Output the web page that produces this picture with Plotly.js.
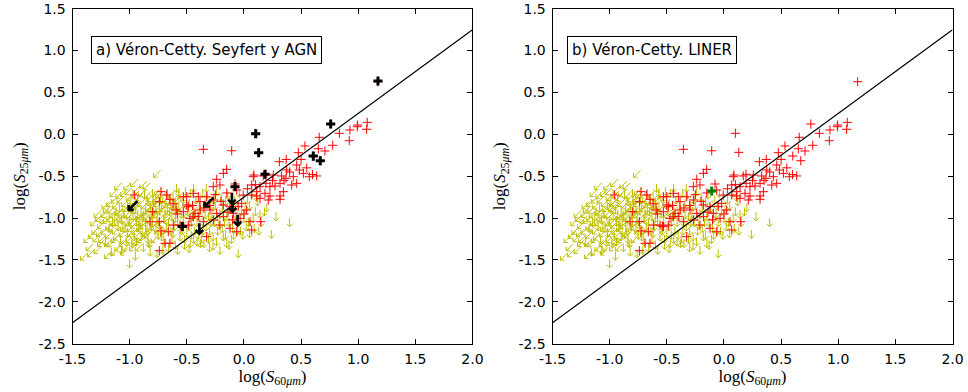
<!DOCTYPE html>
<html><head><meta charset="utf-8">
<script src="https://cdn.plot.ly/plotly-3.0.1.min.js"></script>
<style>html,body{margin:0;padding:0;background:#fff}</style>
</head><body><div id="chart" style="width:968px;height:392px"></div>
<script>
// ---- tick labels ----
const xTickVals = [-1.5,-1.0,-0.5,0.0,0.5,1.0,1.5,2.0];
const xTickText = ["-1.5","-1.0","-0.5","0.0","0.5","1.0","1.5","2.0"];
const yTickVals = [-2.5,-2.0,-1.5,-1.0,-0.5,0.0,0.5,1.0,1.5];
const yTickText = ["-2.5","-2.0","-1.5","-1.0","-0.5","0.0","0.5","1.0","1.5"];

// ---- detections (red +) ----
const redX = [1.17,0.10,0.13,0.76,0.835,0.928,0.992,1.079,1.074,0.922,0.659,0.534,0.777,0.709,0.651,0.602,0.672,0.476,0.31,0.462,0.485,0.52,0.572,0.637,0.432,0.374,0.462,0.418,0.316,0.33,0.257,0.169,0.082,0.193,0.272,0.345,0.141,0.228,0.316,0.112,
-0.355,-0.107,-0.151,-0.18,-0.238,-0.21,-0.268,-0.078,-0.063,0.088,0.193,0.068,0.228,0.368,0.068,0.141,0.213,0.316,0.112,0.184,-0.006,-0.02,0.024,0.053,0.147,0.068,-0.034,-0.093,-0.122,-0.18,-0.268,-0.326,-0.384,-0.443,-0.53,-0.384,-0.297,-0.238,-0.18,-0.268,-0.21,-0.122,-0.355,-0.443,-0.53,-0.326,-0.063,-0.487,-0.53,
-0.959,-0.726,-0.676,-0.647,-0.74,-0.798,-0.822,-0.74,-0.726,-0.662,-0.69,-0.647,-0.74,-0.594,-0.583,-0.559,-0.618,-0.536,-0.501,-0.472,-0.428,-0.399,-0.487,-0.501,
-0.30,-0.25,-0.15,-0.05,0.00,-0.10,-0.14,-0.40,-0.35,-0.20,0.10,0.03,0.25,0.40,0.55,0.60,0.50,0.35,-0.45,-0.62,0.37,0.995];
const redY = [0.628,0.012,-0.215,0.123,0.012,0.052,0.091,0.143,0.060,-0.076,-0.036,-0.139,-0.131,-0.199,-0.172,-0.259,-0.315,-0.219,-0.327,-0.366,-0.426,-0.466,-0.506,-0.497,-0.506,-0.426,-0.585,-0.605,-0.585,-0.497,-0.486,-0.497,-0.506,-0.585,-0.617,-0.685,-0.625,-0.736,-0.736,-0.736,
-0.179,-0.196,-0.418,-0.466,-0.537,-0.605,-0.625,-0.593,-0.665,-0.486,-0.477,-0.605,-0.625,-0.525,-0.725,-0.764,-0.784,-0.776,-0.685,-0.705,-0.725,-0.824,-0.904,-1.043,-1.043,-1.142,-1.003,-0.943,-0.864,-0.844,-0.784,-0.745,-0.804,-0.705,-0.745,-0.904,-0.904,-0.943,-0.984,-1.023,-1.083,-1.122,-1.043,-0.984,-0.924,-1.222,-1.163,-1.083,-1.103,
-0.724,-0.685,-0.724,-0.776,-0.804,-0.924,-1.043,-1.043,-1.154,-1.163,-1.301,-1.301,-1.39,-0.904,-0.951,-1.083,-1.083,-1.095,-0.844,-1.003,-0.943,-0.745,-0.864,-0.745,
-0.85,-0.72,-0.70,-0.86,-0.95,-1.02,-0.93,-0.98,-0.88,-0.80,-0.60,-0.65,-0.55,-0.45,-0.40,-0.48,-0.30,-0.55,-0.85,-0.83,-0.30,0.111];

// ---- upper limits in S25 (yellow down arrows) ----
const ulDownX = [-1.05,-1.00,-0.95,-0.92,-0.88,-0.85,-0.82,-0.80,-0.78,-0.75,
-0.72,-0.70,-0.68,-0.65,-0.62,-0.60,-0.58,-0.55,-0.52,-0.50,
-0.48,-0.45,-0.42,-0.40,-0.38,-0.35,-0.32,-0.30,-0.28,-0.25,
-0.22,-0.20,-0.18,-0.15,-0.12,-0.10,-0.08,-0.05,-0.02,0.02,
0.05,0.08,0.12,-1.10,-1.12,-1.08,-1.15,-1.02,-0.98,-0.93,
-0.90,-0.87,-0.83,-0.80,-0.77,-0.73,-0.70,-0.67,-0.63,-0.60,
-0.57,-0.54,-0.51,-0.47,-0.44,-0.41,-0.37,-0.34,-0.31,-0.27,
-0.24,-0.21,-0.17,-0.14,-0.11,-0.07,-0.04,0.00,0.03,0.10,
0.40,0.24,0.20,0.18,-0.05,-0.21,-0.27,-0.48,-0.76,-1.00,
-0.01,0.07,-0.59,-0.44,-0.33,-0.57,-0.47,0.15,0.28,0.13,
-0.38,-0.13,-0.58,-0.88,-0.95,-0.66,-0.30,0.05,-1.02,-0.97,
-0.94,-0.90,-0.86,-0.84,-0.81,-0.76,-0.74,-0.71,-0.69,-0.66,
-0.64,-0.61,-0.59,-0.56,-0.53,-0.49,-0.46,-0.43,-0.39,-0.36,
-0.33,-0.29,-0.26,-0.23,-0.19,-0.16,-0.09,-0.06,-1.07,-1.04,
-1.18,-1.13,-1.09,-1.06,-1.03,-0.99,-0.96,-0.93,-0.91,-0.89,
-0.86,-0.84,-0.81,-0.79,-0.77,-0.74,-0.72,-0.69,-0.67,-0.64,
-0.62,-0.60,-0.57,-0.55,-0.53,-0.50,-0.48,-0.46,-0.43,-0.41,
-0.39,-0.36,-0.34,-0.31,-0.29,-0.26,-0.23,-0.19,-0.16,-0.13,
-0.09,-0.06,-0.03,0.01,0.04,0.09,0.11,0.14,-1.21,-1.16,
-1.07,-0.94,-0.82,-0.71,-0.63,-0.52,-0.44,-0.35,-0.24,-0.15];
const ulDownY = [-0.95,-1.02,-0.90,-1.10,-0.98,-1.15,-0.88,-1.05,-0.95,-1.20,
-0.85,-1.00,-1.10,-0.92,-1.18,-0.80,-1.05,-0.95,-1.25,-0.85,
-1.10,-0.98,-0.78,-1.20,-0.90,-1.05,-0.72,-1.15,-0.95,-0.85,
-1.08,-0.75,-1.22,-0.98,-0.88,-1.12,-0.78,-1.05,-0.92,-1.10,
-0.85,-1.00,-0.80,-1.10,-0.92,-1.25,-1.05,-1.18,-1.30,-0.78,
-1.22,-0.72,-1.30,-0.70,-1.12,-0.78,-1.28,-0.70,-0.98,-1.32,
-0.72,-1.15,-0.68,-1.30,-0.88,-1.05,-1.25,-0.82,-0.98,-1.22,
-0.68,-0.95,-1.05,-0.72,-1.25,-0.95,-0.70,-1.00,-0.78,-0.92,
-1.05,-1.19,-0.87,-0.92,-1.42,-1.38,-1.33,-1.36,-1.42,-1.54,
-1.20,-0.70,-0.64,-0.64,-0.64,-0.69,-0.70,-1.05,-0.98,-1.15,
-1.30,-1.32,-1.38,-1.35,-1.45,-1.35,-1.35,-1.18,-0.85,-0.97,
-1.05,-0.93,-1.05,-0.80,-0.97,-1.02,-0.90,-1.15,-0.83,-1.05,
-0.85,-1.10,-0.90,-1.22,-1.02,-0.92,-1.20,-1.15,-0.98,-0.70,
-1.10,-0.85,-1.05,-1.15,-0.88,-0.80,-1.00,-1.15,-1.02,-1.12,
-1.12,-0.98,-0.88,-1.08,-1.28,-0.80,-1.22,-0.95,-1.05,-1.15,
-0.90,-1.25,-1.10,-0.78,-0.90,-1.08,-1.22,-0.95,-0.88,-1.15,
-0.75,-1.00,-0.85,-1.12,-0.78,-1.18,-0.82,-1.05,-0.95,-1.28,
-0.85,-1.15,-0.95,-1.25,-1.05,-0.78,-0.98,-1.12,-1.20,-1.05,
-1.20,-0.85,-1.15,-0.88,-1.05,-1.12,-0.75,-0.95,-1.28,-1.40,
-1.38,-1.28,-1.40,-1.38,-1.25,-1.32,-1.25,-1.30,-1.28,-1.30];

// ---- upper limits in both fluxes (yellow diagonal arrows) ----
const ulDiagX = [-1.40,-1.29,-1.27,-1.20,-1.17,-1.14,-0.94,-0.88,-0.76,-1.19,
-1.13,-1.16,-1.22,-1.25,-1.18,-1.10,-1.05,-1.20,-1.15,-1.12,
-1.08,-1.05,-1.00,-0.97,-1.08,-1.05,-1.00,-0.95,-0.92,-1.12,
-1.02,-0.98,-0.95,-0.90,-0.85,-0.82,-0.88,-0.84,-0.79,-0.75,
-0.72,-0.70,-0.65,-0.62,-1.25,-1.30,-1.10,-0.85,-0.78,-0.92,
-1.14,-1.09,-1.03,-0.99,-0.96,-0.93,-0.89,-0.86,-0.83,-0.80,
-1.22,-1.18,-1.13,-1.06,-1.01,-0.97,-0.91,-0.87,-0.77,-0.73,
-1.35,-1.33,-1.31,-1.28,-1.26,-1.24,-1.23,-1.21,-1.19,-1.17,
-1.16,-1.15,-1.13,-1.11,-1.10,-1.09,-1.07,-1.06,-1.04,-1.03,
-1.01,-1.00,-0.99,-0.98,-0.96,-0.95,-0.94,-0.92,-0.91,-0.90,
-0.89,-0.87,-0.86,-0.84,-0.83,-0.82,-0.81,-0.80,-0.79,-0.78,
-0.76,-0.75,-0.74,-0.73,-0.71,-0.70,-0.68,-0.67,-0.66,-0.64,
-0.60,-0.58,-0.55,-0.52,-0.50,-1.37,-1.34,-1.28,-1.02,-0.96];
const ulDiagY = [-1.46,-1.24,-1.00,-0.90,-0.82,-0.70,-0.66,-0.60,-0.47,-1.44,
-1.40,-1.30,-1.15,-1.08,-1.20,-1.35,-1.40,-1.02,-0.95,-0.85,
-0.78,-0.70,-0.75,-0.82,-1.00,-1.12,-1.25,-1.15,-1.35,-1.15,
-0.95,-1.05,-0.72,-0.82,-0.92,-0.76,-1.08,-1.20,-0.85,-0.68,
-1.05,-0.72,-0.80,-0.90,-1.30,-1.15,-0.62,-0.62,-1.25,-1.00,
-1.05,-0.92,-0.88,-1.12,-0.90,-1.20,-0.70,-1.00,-1.12,-0.95,
-0.95,-1.10,-1.25,-1.30,-1.05,-1.35,-1.12,-0.85,-0.78,-0.92,
-1.35,-1.20,-1.05,-0.95,-1.18,-1.25,-1.02,-0.85,-1.30,-1.00,
-0.90,-1.12,-0.78,-1.22,-1.05,-0.72,-0.95,-1.18,-0.82,-1.35,
-0.68,-0.98,-1.18,-0.88,-1.08,-1.28,-0.85,-0.75,-0.98,-1.25,
-1.05,-0.95,-1.18,-0.72,-0.88,-1.02,-1.30,-0.80,-1.10,-0.92,
-0.82,-1.15,-0.72,-1.00,-0.88,-1.18,-0.78,-1.02,-0.92,-0.72,
-0.85,-0.78,-0.88,-0.75,-0.95,-1.25,-1.42,-1.38,-0.62,-0.58];

// ---- Véron-Cetty Seyfert / AGN (black) ----
const agnX = [-0.54,-0.078,0.103,0.129,0.184,0.607,0.668,0.759,1.173];
const agnY = [-1.10,-0.625,0.007,-0.22,-0.477,-0.26,-0.315,0.123,0.637];
const agnDownX = [-0.39,-0.105,-0.10,-0.055];
const agnDownY = [-1.12,-0.757,-0.856,-1.02];
const agnDiagX = [-0.97,-0.306];
const agnDiagY = [-0.85,-0.81];

// ---- Véron-Cetty LINER (green) ----
const linerX = [-0.107];
const linerY = [-0.677];

// ---- reference line ----
const fitX = [-1.5, 2.0];
const fitY = [-2.25, 1.25];

// arrow glyph geometry (pixel sizes converted into data units)
const pxX = 3.5/400, pxY = 4/335;
function downPath(xs, ys, s){
  const X=[],Y=[];
  for (let i=0;i<xs.length;i++){
    const x=xs[i], y=ys[i];
    X.push(x, x, null, x-3*s*pxX, x, x+3*s*pxX, null);
    Y.push(y+4*s*pxY, y-4.5*s*pxY, null, y-1.5*s*pxY, y-4.5*s*pxY, y-1.5*s*pxY, null);
  }
  return {X,Y};
}
function diagPath(xs, ys, s){
  const X=[],Y=[];
  for (let i=0;i<xs.length;i++){
    const x=xs[i], y=ys[i];
    X.push(x+3.5*s*pxX, x-3.5*s*pxX, null, x-3.5*s*pxX, x-3.5*s*pxX, x+0.5*s*pxX, null);
    Y.push(y+3.5*s*pxY, y-3.5*s*pxY, null, y+0.5*s*pxY, y-3.5*s*pxY, y-3.5*s*pxY, null);
  }
  return {X,Y};
}

const YEL = '#bfbf00';
function commonTraces(xa, ya){
  const d = downPath(ulDownX, ulDownY, 1);
  const g = diagPath(ulDiagX, ulDiagY, 1);
  return [
    {x:d.X, y:d.Y, xaxis:xa, yaxis:ya, mode:'lines', line:{color:YEL, width:1}, hoverinfo:'skip', showlegend:false},
    {x:g.X, y:g.Y, xaxis:xa, yaxis:ya, mode:'lines', line:{color:YEL, width:1}, hoverinfo:'skip', showlegend:false},
    {x:redX, y:redY, xaxis:xa, yaxis:ya, mode:'markers', marker:{symbol:'cross-thin-open', size:6.5, color:'#ff0000', line:{color:'#ff0000', width:1}}, showlegend:false},
    {x:fitX, y:fitY, xaxis:xa, yaxis:ya, mode:'lines', line:{color:'#000', width:1.2}, showlegend:false}
  ];
}

const bd = downPath(agnDownX, agnDownY, 1.25);
const bg = diagPath(agnDiagX, agnDiagY, 1.25);
const traces = [
  ...commonTraces('x','y'),
  {x:bd.X, y:bd.Y, xaxis:'x', yaxis:'y', mode:'lines', line:{color:'#000', width:2.6}, showlegend:false},
  {x:bg.X, y:bg.Y, xaxis:'x', yaxis:'y', mode:'lines', line:{color:'#000', width:2.6}, showlegend:false},
  {x:agnX, y:agnY, xaxis:'x', yaxis:'y', mode:'markers', marker:{symbol:'cross-thin-open', size:6.5, color:'#000', line:{color:'#000', width:3}}, showlegend:false},
  ...commonTraces('x2','y2'),
  {x:linerX, y:linerY, xaxis:'x2', yaxis:'y2', mode:'markers', marker:{symbol:'cross-thin-open', size:6.5, color:'#008000', line:{color:'#008000', width:3}}, showlegend:false}
];

const tickFont = {family:'DejaVu Sans', size:14, color:'#000'};
const titleFont = {family:'Liberation Serif', size:17, color:'#000'};
function xAxis(domain, anchor){
  return {domain, anchor, range:[-1.5,2.0], tickmode:'array', tickvals:xTickVals, ticktext:xTickText,
    ticks:'inside', ticklen:5, tickwidth:1, tickcolor:'#000', showline:true, linecolor:'#000', linewidth:1,
    mirror:'ticks', showgrid:false, zeroline:false, tickfont:tickFont, ticklabelstandoff:2,
    title:{text:'log(<i>S</i><sub>60<i>μm</i></sub>)', font:titleFont, standoff:4}};
}
function yAxis(domain, anchor){
  return {domain, anchor, range:[-2.5,1.5], tickmode:'array', tickvals:yTickVals, ticktext:yTickText,
    ticks:'inside', ticklen:5, tickwidth:1, tickcolor:'#000', showline:true, linecolor:'#000', linewidth:1,
    mirror:'ticks', showgrid:false, zeroline:false, tickfont:tickFont, ticklabelstandoff:3,
    title:{text:'log(<i>S</i><sub>25<i>μm</i></sub>)', font:titleFont, standoff:8}};
}
const yDom = [0.1232, 0.9778];
const layout = {
  width:968, height:392, margin:{l:0,r:0,t:0,b:0},
  paper_bgcolor:'#fff', plot_bgcolor:'#fff', showlegend:false,
  xaxis: xAxis([0.0749,0.4881],'y'),
  yaxis: yAxis(yDom,'x'),
  xaxis2: xAxis([0.5708,0.9840],'y2'),
  yaxis2: yAxis(yDom,'x2'),
  annotations:[
    {text:'a) Véron-Cetty. Seyfert y AGN', xref:'x domain', yref:'y domain', x:0.045, y:0.877, xanchor:'left', yanchor:'middle',
     showarrow:false, font:{family:'DejaVu Sans', size:15, color:'#000'}, bordercolor:'#000', borderwidth:1, borderpad:4, bgcolor:'#fff'},
    {text:'b) Véron-Cetty. LINER', xref:'x2 domain', yref:'y2 domain', x:0.036, y:0.877, xanchor:'left', yanchor:'middle',
     showarrow:false, font:{family:'DejaVu Sans', size:15, color:'#000'}, bordercolor:'#000', borderwidth:1, borderpad:4, bgcolor:'#fff'}
  ]
};
Plotly.newPlot('chart', traces, layout, {staticPlot:true, displayModeBar:false});
</script>
</body></html>
